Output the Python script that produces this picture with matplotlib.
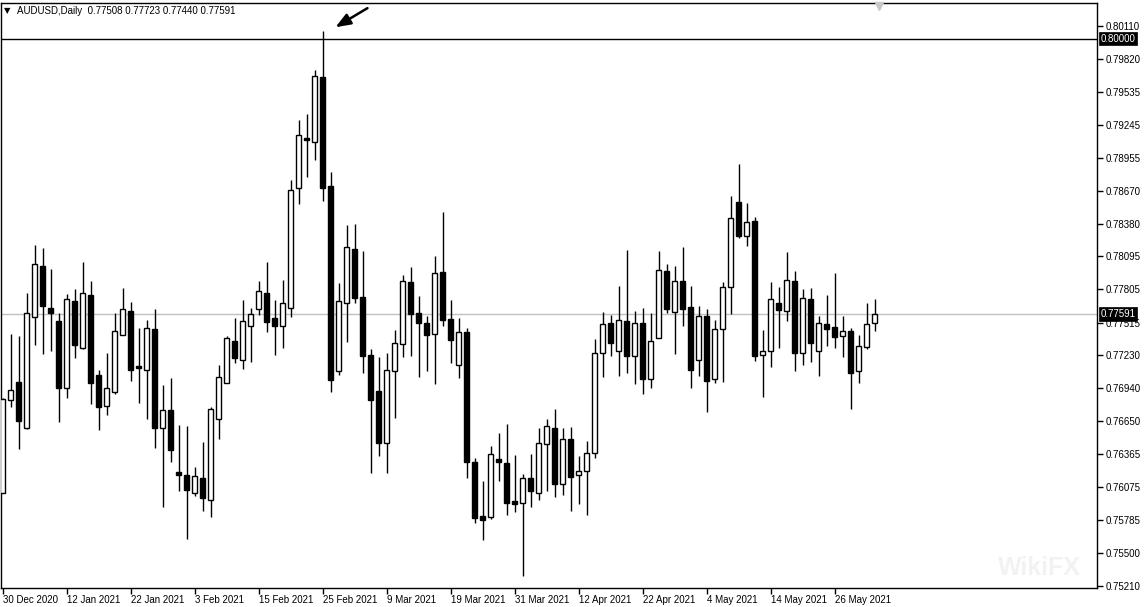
import matplotlib
matplotlib.use("Agg")
import matplotlib.pyplot as plt
import numpy as np

plt.rcParams['font.family'] = ['Liberation Sans', 'DejaVu Sans']

symbol_title = "AUDUSD,Daily  0.77508 0.77723 0.77440 0.77591"

opens = [0.76026, 0.76835, 0.76995, 0.76595, 0.77561, 0.78010, 0.77640, 0.77529, 0.76940, 0.77704,
         0.77295, 0.77756, 0.77056, 0.76782, 0.76910, 0.77404, 0.77616, 0.77135, 0.77097, 0.77459,
         0.76590, 0.76750, 0.76208, 0.76181, 0.76026, 0.76152, 0.75960, 0.76669, 0.76984, 0.77354,
         0.77185, 0.77482, 0.77631, 0.77771, 0.77555, 0.77482, 0.77640, 0.78690, 0.79130, 0.79092,
         0.79664, 0.78707, 0.77089, 0.77684, 0.78159, 0.77739, 0.77229, 0.76916, 0.76464, 0.77089,
         0.77325, 0.77867, 0.77599, 0.77511, 0.77412, 0.77958, 0.77546, 0.77141, 0.77433, 0.76295,
         0.75823, 0.75811, 0.76321, 0.76286, 0.75954, 0.75934, 0.76152, 0.76021, 0.76450, 0.76590,
         0.76100, 0.76494, 0.76179, 0.76214, 0.76371, 0.77246, 0.77509, 0.77269, 0.77526, 0.77225,
         0.77509, 0.77024, 0.77377, 0.77964, 0.77610, 0.77876, 0.77651, 0.77190, 0.77573, 0.77024,
         0.77456, 0.77824, 0.78567, 0.78270, 0.78404, 0.77229, 0.77264, 0.77686, 0.77614, 0.77876,
         0.77246, 0.77719, 0.77264, 0.77500, 0.77474, 0.77395, 0.77439, 0.77089, 0.77299, 0.77508]
highs = [0.76855, 0.77415, 0.77398, 0.77774, 0.78194, 0.78168, 0.77984, 0.77596, 0.77762, 0.77809,
         0.78045, 0.77879, 0.77100, 0.77249, 0.77599, 0.77818, 0.77695, 0.77468, 0.77538, 0.77634,
         0.76969, 0.77030, 0.76619, 0.76610, 0.76251, 0.76470, 0.76776, 0.77141, 0.77395, 0.77555,
         0.77713, 0.77640, 0.77879, 0.78045, 0.77713, 0.77888, 0.78763, 0.79288, 0.79340, 0.79725,
         0.80066, 0.78830, 0.77859, 0.78369, 0.78378, 0.78141, 0.77284, 0.77214, 0.77249, 0.77450,
         0.77929, 0.78001, 0.77748, 0.77570, 0.78098, 0.78485, 0.77713, 0.77555, 0.77465, 0.76327,
         0.76129, 0.76435, 0.76549, 0.76628, 0.76356, 0.76190, 0.76365, 0.76590, 0.76671, 0.76759,
         0.76590, 0.76601, 0.76348, 0.76479, 0.77369, 0.77605, 0.77579, 0.77835, 0.78150, 0.77614,
         0.77640, 0.77596, 0.78141, 0.78028, 0.78010, 0.78176, 0.77835, 0.77660, 0.77631, 0.77535,
         0.77870, 0.78623, 0.78903, 0.78561, 0.78439, 0.77450, 0.77870, 0.77826, 0.78133, 0.77966,
         0.77806, 0.77815, 0.77573, 0.77756, 0.77949, 0.77573, 0.77465, 0.77406, 0.77686, 0.77723]
lows = [0.76024, 0.76774, 0.76411, 0.76586, 0.77321, 0.77243, 0.77269, 0.76648, 0.76858, 0.77208,
        0.77281, 0.76805, 0.76578, 0.76709, 0.76893, 0.77404, 0.77006, 0.76814, 0.76674, 0.76420,
        0.75904, 0.76298, 0.76044, 0.75624, 0.76000, 0.75869, 0.75816, 0.76499, 0.76984, 0.77164,
        0.77111, 0.77173, 0.77579, 0.77435, 0.77234, 0.77295, 0.77566, 0.78550, 0.78791, 0.78940,
        0.78581, 0.76910, 0.77059, 0.77348, 0.77689, 0.77076, 0.76201, 0.76350, 0.76201, 0.76676,
        0.77216, 0.77225, 0.77041, 0.77094, 0.76980, 0.77482, 0.77164, 0.77033, 0.76158, 0.75764,
        0.75615, 0.75794, 0.76131, 0.75834, 0.75858, 0.75300, 0.75904, 0.75963, 0.76041, 0.75989,
        0.76006, 0.75866, 0.75928, 0.75834, 0.76333, 0.77041, 0.77225, 0.77050, 0.77076, 0.76978,
        0.76890, 0.76945, 0.77377, 0.77599, 0.77243, 0.77488, 0.76943, 0.77050, 0.76735, 0.76989,
        0.76998, 0.77593, 0.78252, 0.78188, 0.77181, 0.76866, 0.77129, 0.77295, 0.77531, 0.77094,
        0.77146, 0.77173, 0.77050, 0.77313, 0.77295, 0.77216, 0.76761, 0.76989, 0.77281, 0.77440]
closes = [0.76844, 0.76922, 0.76656, 0.77596, 0.78025, 0.77663, 0.77601, 0.76945, 0.77719, 0.77321,
          0.77774, 0.76989, 0.76779, 0.76940, 0.77441, 0.77631, 0.77103, 0.77120, 0.77465, 0.76595,
          0.76750, 0.76403, 0.76184, 0.76053, 0.76170, 0.75983, 0.76756, 0.77036, 0.77377, 0.77208,
          0.77526, 0.77587, 0.77789, 0.77523, 0.77488, 0.77684, 0.78672, 0.79154, 0.79110, 0.79670,
          0.78695, 0.77015, 0.77701, 0.78174, 0.77733, 0.77225, 0.76835, 0.76464, 0.77100, 0.77336,
          0.77879, 0.77593, 0.77509, 0.77409, 0.77946, 0.77540, 0.77365, 0.77430, 0.76292, 0.75809,
          0.75790, 0.76362, 0.76298, 0.75939, 0.75930, 0.76152, 0.76044, 0.76459, 0.76607, 0.76105,
          0.76494, 0.76166, 0.76214, 0.76371, 0.77246, 0.77500, 0.77334, 0.77535, 0.77225, 0.77509,
          0.77024, 0.77351, 0.77972, 0.77636, 0.77876, 0.77636, 0.77103, 0.77570, 0.77006, 0.77456,
          0.77824, 0.78427, 0.78275, 0.78392, 0.77225, 0.77264, 0.77719, 0.77628, 0.77885, 0.77246,
          0.77727, 0.77339, 0.77509, 0.77461, 0.77391, 0.77439, 0.77076, 0.77307, 0.77500, 0.77591]

date_ticks = ["30 Dec 2020", "12 Jan 2021", "22 Jan 2021", "3 Feb 2021", "15 Feb 2021",
              "25 Feb 2021", "9 Mar 2021", "19 Mar 2021", "31 Mar 2021", "12 Apr 2021",
              "22 Apr 2021", "4 May 2021", "14 May 2021", "26 May 2021"]
date_tick_step = 8

price_ticks = [0.80110, 0.79820, 0.79535, 0.79245, 0.78955, 0.78670, 0.78380, 0.78095,
               0.77805, 0.77515, 0.77230, 0.76940, 0.76650, 0.76365, 0.76075, 0.75785,
               0.75500, 0.75210]
level_line = 0.80000
last_price = 0.77591

W, H = 1144, 607
fig = plt.figure(figsize=(W / 100, H / 100), dpi=100)
fig.patch.set_facecolor('white')
ax = fig.add_axes([1 / W, (H - 588) / H, (1097 - 1) / W, (588 - 3) / H])
ax.set_facecolor('white')

o = np.array(opens); h = np.array(highs); l = np.array(lows); c = np.array(closes)
x = np.arange(len(o))

ax.set_xlim(-0.21, 136.8)
ax.set_ylim(0.75193, 0.80311)

# watermark (very faint, inside the chart area)
ax.text(0.985, 0.035, "WikiFX", transform=ax.transAxes, fontsize=18, color='#f2f2f2',
        ha='right', va='center', fontweight='bold', zorder=0)

# reference lines
ax.axhline(level_line, color='black', lw=1.0, zorder=1)
ax.axhline(last_price, color='#c0c0c0', lw=1.0, zorder=1)

# candles
ax.vlines(x, l, h, color='black', lw=1.0, zorder=2)
up = c >= o
body_bottom = np.minimum(o, c)
body_h = np.maximum(np.abs(c - o), 0.00004)
ax.bar(x[up], body_h[up], bottom=body_bottom[up], width=0.6, color='white',
       edgecolor='black', linewidth=1.0, zorder=3)
ax.bar(x[~up], body_h[~up], bottom=body_bottom[~up], width=0.6, color='black',
       edgecolor='black', linewidth=1.0, zorder=3)

# axes styling
for s in ax.spines.values():
    s.set_color('black'); s.set_linewidth(1.0)
ax.yaxis.tick_right()
ax.set_yticks(price_ticks)
ax.set_yticklabels([f"{p:.5f}" for p in price_ticks])
ax.tick_params(axis='y', direction='out', length=4, width=1, pad=2, labelsize=7, colors='black')

xt = np.arange(len(date_ticks)) * date_tick_step
ax.set_xticks(xt)
ax.set_xticklabels(date_ticks)
ax.tick_params(axis='x', direction='out', length=4, width=1, pad=1, labelsize=7)
for lab in ax.get_xticklabels():
    lab.set_horizontalalignment('left')

# price label boxes
for val, fc in [(level_line, 'black'), (last_price, 'black')]:
    ax.text(1.003, val, f"{val:.5f}", transform=ax.get_yaxis_transform(), ha='left', va='center',
            fontsize=7, color='white', zorder=10, clip_on=False,
            bbox=dict(boxstyle='square,pad=0.18', fc=fc, ec='black', lw=0.5))

# title
fig.text(4 / W, 1 - 11 / H, "▼", fontsize=6, color='black', va='center', ha='left',
         family='DejaVu Sans')
fig.text(17 / W, 1 - 11 / H, symbol_title, fontsize=7, color='black', va='center', ha='left')

# arrow pointing at the top
peak = int(np.argmax(h))
ax.annotate("", xy=(peak + 1.6, h[peak] + 0.00033), xytext=(peak + 5.6, h[peak] + 0.0020),
            arrowprops=dict(arrowstyle='-|>,head_length=0.9,head_width=0.35', color='black', lw=1.8,
                            shrinkA=0, shrinkB=0), zorder=5)

# chart shift marker
ax.plot([109.5], [0.80285], marker='v', markersize=6, color='#c8c8c8', clip_on=False, zorder=4)

fig.savefig('out.png', dpi=100, facecolor='white')
